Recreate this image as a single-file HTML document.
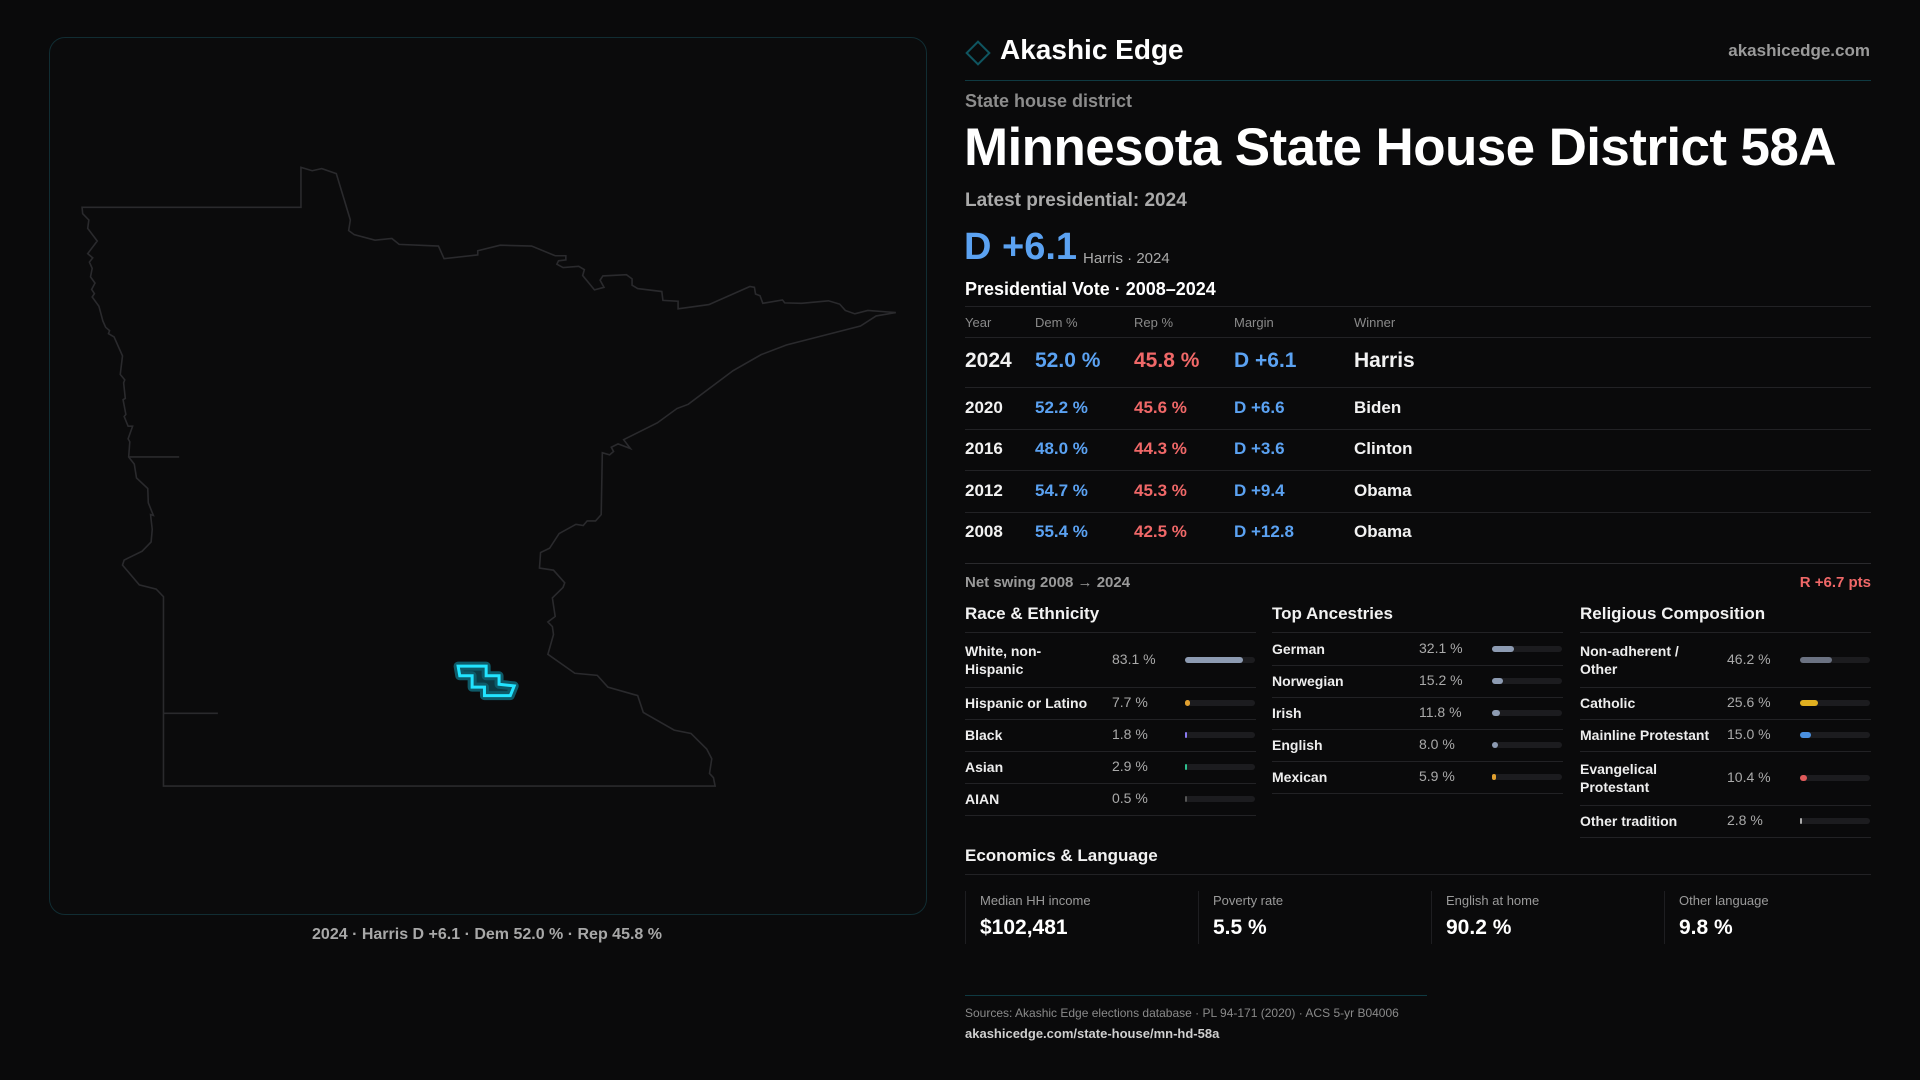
<!DOCTYPE html>
<html><head><meta charset="utf-8"><style>
*{margin:0;padding:0;box-sizing:border-box}
body{width:1920px;height:1080px;background:#0a0a0b;font-family:"Liberation Sans",sans-serif;color:#f2f2f2;position:relative;overflow:hidden}
.a{position:absolute;white-space:nowrap}
.line{position:absolute;height:1px;background:#222225}
.th{position:absolute;font-size:13px;color:#8a8a8a}
.row{position:absolute;left:965px;width:906px;font-size:18px;font-weight:bold}
.row span{position:absolute;top:0;white-space:nowrap}
.dem{color:#5ba2f2}.rep{color:#f06868}
.sec{position:absolute;font-size:17px;font-weight:bold;color:#f2f2f2}
.lbl{position:absolute;font-size:14px;font-weight:bold;color:#eee;line-height:18px;white-space:normal}
.val{position:absolute;font-size:14px;color:#aaa}
.track{position:absolute;height:6px;border-radius:3px;background:#1c1c1f}
.fill{position:absolute;left:0;top:0;height:6px;border-radius:3px}
.card{position:absolute;top:891px;height:53px;border-left:1px solid #1e1e21;padding-left:14px;width:233px}
.card .l{font-size:13px;color:#9a9a9a;margin-top:2px}
.card .v{font-size:21px;font-weight:bold;color:#fff;margin-top:8px}
</style></head><body>
<div style="position:absolute;left:49px;top:37px;width:878px;height:878px;border:1px solid #112d33;border-radius:16px;background:#0b0b0c"></div>
<svg class="a" style="left:0;top:0" width="940" height="930">
<g transform="translate(40,140) scale(0.5612,0.4209)" fill="none" stroke="#2a2a2d" stroke-width="1.6">
<polygon vector-effect="non-scaling-stroke" points="75,160 465,160 465,65 485,73 502,68 528,80 553,190 550,215 560,225 597,238 627,234 640,248 710,252 720,282 780,273 780,263 820,250 876,252 918,275 937,275 937,285 924,287 921,295 932,303 960,300 970,308 967,322 988,356 1005,350 998,333 1003,323 1045,320 1055,330 1055,345 1065,353 1108,360 1110,381 1137,383 1137,401 1192,391 1265,348 1273,350 1275,366 1283,370 1288,388 1323,380 1327,387 1357,388 1405,382 1425,390 1435,405 1452,413 1475,405 1525,410 1490,418 1462,442 1330,487 1285,510 1235,548 1155,628 1135,638 1100,672 1040,712 1052,733 1030,722 1018,730 1022,740 1015,748 1002,743 1000,890 990,905 975,905 968,916 955,913 925,935 908,970 892,980 890,1017 915,1022 935,1052 932,1063 913,1088 918,1132 905,1145 913,1156 915,1175 905,1222 953,1267 993,1272 1012,1300 1065,1320 1075,1360 1130,1402 1160,1410 1188,1447 1197,1470 1193,1505 1200,1515 1203,1535 220,1535 220,1085 207,1067 177,1057 147,1010 150,998 182,977 198,955 200,925 197,890 202,892 193,862 192,828 172,803 168,770 158,753 160,717 157,710 165,680 157,680 150,657 153,652 148,617 152,614 149,577 151,570 143,557 147,513 132,468 122,460 124,453 117,445 112,430 105,395 93,373 97,365 92,355 98,340 90,325 93,305 88,290 94,280 85,270 102,240 85,210 87,190 76,175"/>
<polyline vector-effect="non-scaling-stroke" points="158,753 248,753"/>
<polyline vector-effect="non-scaling-stroke" points="220,1362 317,1362"/>
<polygon vector-effect="non-scaling-stroke" stroke="#0e5a68" stroke-width="9" stroke-linejoin="round" fill="#0b3a44" points="745,1250 795,1250 795,1273 818,1273 818,1293 845,1297 838,1320 792,1320 792,1300 770,1300 770,1273 748,1273"/>
<polygon vector-effect="non-scaling-stroke" stroke="#22e4ff" stroke-width="3" fill="none" points="745,1250 795,1250 795,1273 818,1273 818,1293 845,1297 838,1320 792,1320 792,1300 770,1300 770,1273 748,1273"/>
</g></svg>
<div class="a" style="left:487px;top:926px;transform:translateX(-50%);font-size:16px;font-weight:bold;color:#a8a8a8">2024 · Harris D +6.1 · Dem 52.0 % · Rep 45.8 %</div>

<div class="a" style="left:969px;top:44px;width:18px;height:18px;border:2px solid #0f5560;transform:rotate(45deg)"></div>
<div class="a" style="left:1000px;top:34px;font-size:28px;font-weight:bold;color:#fff">Akashic Edge</div>
<div class="a" style="right:50px;top:41px;font-size:17px;font-weight:bold;color:#9a9a9a">akashicedge.com</div>
<div class="line" style="left:965px;width:906px;top:80px;background:#0f3a42"></div>
<div class="a" style="left:965px;top:91px;font-size:18px;font-weight:bold;color:#8c8c8c">State house district</div>
<div class="a" style="left:964px;top:117px;font-size:53px;font-weight:bold;color:#fff;letter-spacing:-0.6px">Minnesota State House District 58A</div>
<div class="a" style="left:965px;top:190px;font-size:19px;font-weight:bold;color:#aaa">Latest presidential: 2024</div>
<div class="a dem" style="left:964px;top:226px;font-size:38px;font-weight:bold">D +6.1</div>
<div class="a" style="left:1083px;top:250px;font-size:15px;color:#aaa">Harris · 2024</div>
<div class="a" style="left:965px;top:279px;font-size:18px;font-weight:bold;color:#fff">Presidential Vote · 2008–2024</div>
<div class="line" style="left:965px;width:906px;top:306px"></div>
<div class="th" style="left:965px;top:315px">Year</div><div class="th" style="left:1035px;top:315px">Dem %</div><div class="th" style="left:1134px;top:315px">Rep %</div><div class="th" style="left:1234px;top:315px">Margin</div><div class="th" style="left:1354px;top:315px">Winner</div>
<div class="line" style="left:965px;width:906px;top:337px"></div>
<div id="vote-rows"></div>
<div class="line" style="left:965px;width:906px;top:563px;background:#2a2a2d"></div>
<div class="a" style="left:965px;top:574px;font-size:15px;font-weight:bold;color:#9a9a9a">Net swing 2008 → 2024</div>
<div class="a rep" style="right:49px;top:574px;font-size:15px;font-weight:bold">R +6.7 pts</div>
<div id="demo"></div>
<div class="sec" style="left:965px;top:846px">Economics &amp; Language</div>
<div class="line" style="left:965px;width:906px;top:874px"></div>
<div class="card" style="left:965px"><div class="l">Median HH income</div><div class="v">$102,481</div></div>
<div class="card" style="left:1198px"><div class="l">Poverty rate</div><div class="v">5.5 %</div></div>
<div class="card" style="left:1431px"><div class="l">English at home</div><div class="v">90.2 %</div></div>
<div class="card" style="left:1664px"><div class="l">Other language</div><div class="v">9.8 %</div></div>
<div class="line" style="left:965px;width:462px;top:995px;background:#0f3a42"></div>
<div class="a" style="left:965px;top:1006px;font-size:12px;color:#8a8a8a">Sources: Akashic Edge elections database · PL 94-171 (2020) · ACS 5-yr B04006</div>
<div class="a" style="left:965px;top:1026px;font-size:13px;font-weight:bold;color:#cfcfcf">akashicedge.com/state-house/mn-hd-58a</div>
<script>
const years=["2024","2020","2016","2012","2008"];
const demPct=[52.0,52.2,48.0,54.7,55.4];
const repPct=[45.8,45.6,44.3,45.3,42.5];
const margins=["D +6.1","D +6.6","D +3.6","D +9.4","D +12.8"];
const winners=["Harris","Biden","Clinton","Obama","Obama"];
const raceLabels=["White, non-Hispanic","Hispanic or Latino","Black","Asian","AIAN"];
const raceValues=[83.1,7.7,1.8,2.9,0.5];
const ancLabels=["German","Norwegian","Irish","English","Mexican"];
const ancValues=[32.1,15.2,11.8,8.0,5.9];
const relLabels=["Non-adherent / Other","Catholic","Mainline Protestant","Evangelical Protestant","Other tradition"];
const relValues=[46.2,25.6,15.0,10.4,2.8];
const vr=document.getElementById('vote-rows');
let y=337;
years.forEach((yr,i)=>{
  const h=i===0?50:41.5;
  const r=document.createElement('div');
  r.className='row';
  
  
  const fs=i===0?21:17;
  const mt=margins[i];
  const cls=mt[0]==='D'?'dem':'rep';
  r.style.top=(y+h/2-fs*0.6)+'px';r.style.fontSize=fs+'px';
  r.innerHTML=`<span style="left:0">${yr}</span><span class="dem" style="left:70px">${demPct[i].toFixed(1)} %</span><span class="rep" style="left:169px">${repPct[i].toFixed(1)} %</span><span class="${cls}" style="left:269px">${mt}</span><span style="left:389px">${winners[i]}</span>`;
  vr.appendChild(r);
  y+=h;
  if(i<years.length-1){const l=document.createElement('div');l.className='line';l.style.cssText=`left:965px;width:906px;top:${Math.round(y)}px`;vr.appendChild(l);}
});
const demo=document.getElementById('demo');
function section(x,title,labels,values,colors,twoLine,name){
  const h=document.createElement('div');h.className='sec';h.style.left=x+'px';h.style.top='604px';h.textContent=title;
  
  
  demo.appendChild(h);
  const l0=document.createElement('div');l0.className='line';l0.style.cssText=`left:${x}px;width:291px;top:632px`;demo.appendChild(l0);
  let yy=633;
  labels.forEach((lab,i)=>{
    const rh=twoLine[i]?54:32;
    const cy=yy+rh/2;
    const t=document.createElement('div');t.className='lbl';t.textContent=lab;
    
    
    t.style.cssText=`left:${x}px;top:${cy-(twoLine[i]?18:9)}px;width:${twoLine[i]?110:150}px`;demo.appendChild(t);
    const v=document.createElement('div');v.className='val';v.textContent=values[i].toFixed(1)+' %';
    
    
    v.style.cssText=`left:${x+147}px;top:${cy-9}px`;demo.appendChild(v);
    const tr=document.createElement('div');tr.className='track';
    
    
    tr.style.cssText=`left:${x+220}px;top:${cy-3}px;width:70px`;
    const f=document.createElement('div');f.className='fill';f.style.width=Math.max(2,values[i]/100*70)+'px';f.style.background=colors[i];
    tr.appendChild(f);demo.appendChild(tr);
    yy+=rh;
    const l=document.createElement('div');l.className='line';l.style.cssText=`left:${x}px;width:291px;top:${yy}px`;demo.appendChild(l);
  });
}
section(965,'Race & Ethnicity',raceLabels,raceValues,['#8d9bb2','#e0a030','#8a7af0','#2fc08f','#555'],[1,0,0,0,0],'race');
section(1272,'Top Ancestries',ancLabels,ancValues,['#8d9bb2','#8d9bb2','#8d9bb2','#8d9bb2','#e0a030'],[0,0,0,0,0],'ancestry');
section(1580,'Religious Composition',relLabels,relValues,['#6b7282','#e0b020','#4a90e0','#e05a5a','#aaaaaa'],[1,0,0,1,0],'religion');
</script>
</body></html>
